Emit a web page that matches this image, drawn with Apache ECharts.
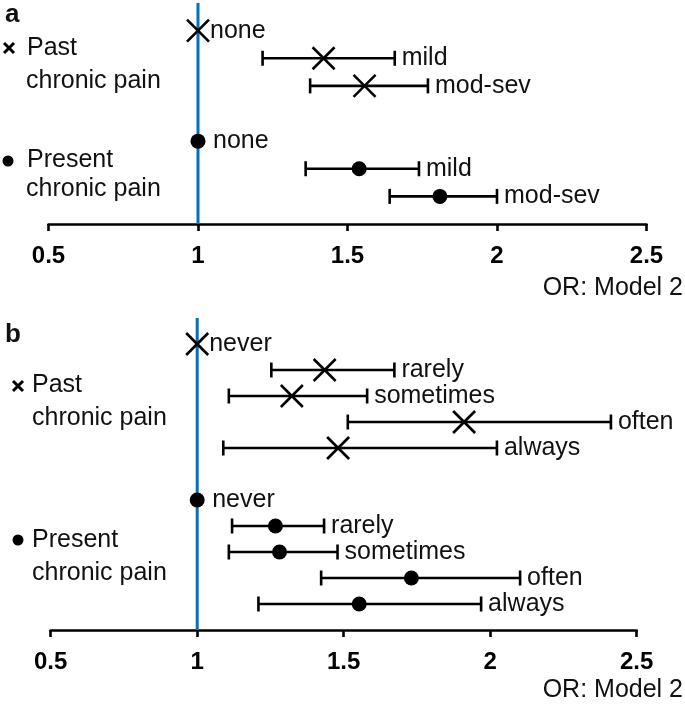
<!DOCTYPE html>
<html>
<head>
<meta charset="utf-8">
<script src="https://cdn.jsdelivr.net/npm/echarts@6/dist/echarts.min.js"></script>
<style>
  html, body { margin: 0; padding: 0; background: #fff; }
  #chart { width: 685px; height: 704px; }
</style>
</head>
<body>
<div id="chart"></div>
<script>
// panel a: pain severity
const sevLabels = ['none', 'mild', 'mod-sev'];
const sevPastEst = [1, 1.42, 1.557];
const sevPastLo  = [1, 1.216, 1.375];
const sevPastHi  = [1, 1.658, 1.769];
const sevPresEst = [1, 1.539, 1.809];
const sevPresLo  = [1, 1.36, 1.641];
const sevPresHi  = [1, 1.739, 2.0];

// panel b: pain frequency
const freqLabels = ['never', 'rarely', 'sometimes', 'often', 'always'];
const freqPastEst = [1, 1.435, 1.323, 1.911, 1.481];
const freqPastLo  = [1, 1.253, 1.108, 1.514, 1.089];
const freqPastHi  = [1, 1.673, 1.580, 2.412, 2.023];
const freqPresEst = [1, 1.267, 1.281, 1.731, 1.553];
const freqPresLo  = [1, 1.119, 1.108, 1.423, 1.209];
const freqPresHi  = [1, 1.433, 1.479, 2.102, 1.969];

const refOR = 1;
const FONT = "'Liberation Sans', Arial, sans-serif";

// rows counted up from the x axis, one empty row between the two groups
const toRows = (est, lo, hi, top) => est.map((v, i) => [v, lo[i], hi[i], top - i]);

const renderRow = (kind, labels) => (params, api) => {
  const est = api.value(0), lo = api.value(1), hi = api.value(2), row = api.value(3);
  const pE = api.coord([est, row]);
  const pL = api.coord([lo, row]);
  const pH = api.coord([hi, row]);
  const ink = { stroke: '#000', lineWidth: 2.6 };
  const kids = [];
  if (hi > lo) {
    kids.push({ type: 'line', shape: { x1: pL[0], y1: pL[1], x2: pH[0], y2: pH[1] }, style: ink });
    kids.push({ type: 'line', shape: { x1: pL[0], y1: pL[1] - 7.5, x2: pL[0], y2: pL[1] + 7.5 }, style: ink });
    kids.push({ type: 'line', shape: { x1: pH[0], y1: pH[1] - 7.5, x2: pH[0], y2: pH[1] + 7.5 }, style: ink });
  }
  if (kind === 'x') {
    const s = 11;
    kids.push({ type: 'line', shape: { x1: pE[0] - s, y1: pE[1] - s, x2: pE[0] + s, y2: pE[1] + s }, style: ink });
    kids.push({ type: 'line', shape: { x1: pE[0] - s, y1: pE[1] + s, x2: pE[0] + s, y2: pE[1] - s }, style: ink });
  } else {
    kids.push({ type: 'circle', shape: { cx: pE[0], cy: pE[1], r: 7.5 }, style: { fill: '#000' } });
  }
  const tx = hi > lo ? pH[0] + 7 : pE[0] + (kind === 'x' ? 12 : 15);
  kids.push({
    type: 'text',
    style: {
      text: labels[params.dataIndex], x: tx, y: pE[1],
      align: 'left', verticalAlign: 'middle', textAlign: 'left', textVerticalAlign: 'middle',
      font: '25px ' + FONT, fill: '#111'
    }
  });
  return { type: 'group', children: kids };
};

const xAxisBase = {
  type: 'value', min: 0.5, max: 2.5, interval: 0.5,
  splitLine: { show: false },
  axisLine: { onZero: false, lineStyle: { color: '#000', width: 2.6 } },
  axisTick: { show: true, inside: false, length: 7, lineStyle: { color: '#000', width: 2.6 } },
  axisLabel: { color: '#000', fontSize: 24, fontWeight: 'bold', fontFamily: FONT, margin: 20 }
};

const refLine = (idx, yMax) => ({
  type: 'line', xAxisIndex: idx, yAxisIndex: idx, z: 1,
  data: [[refOR, 0], [refOR, yMax]], showSymbol: false, silent: true,
  lineStyle: { color: '#0070C0', width: 3 }
});

const custom = (idx, kind, labels, data) => ({
  type: 'custom', xAxisIndex: idx, yAxisIndex: idx, z: 3,
  renderItem: renderRow(kind, labels), data: data,
  encode: { x: [0, 1, 2], y: 3 }
});

const txt = (text, x, y, size, weight, align) => ({
  type: 'text', x: x, y: y, z: 10,
  style: {
    text: text, font: (weight || 'normal') + ' ' + size + 'px ' + FONT, fill: '#111',
    textAlign: align || 'left', textVerticalAlign: 'middle',
    align: align || 'left', verticalAlign: 'middle'
  }
});
const cross = (cx, cy) => ({
  type: 'group', children: [
    { type: 'line', shape: { x1: cx - 5, y1: cy - 5, x2: cx + 5, y2: cy + 5 }, style: { stroke: '#000', lineWidth: 3 } },
    { type: 'line', shape: { x1: cx - 5, y1: cy + 5, x2: cx + 5, y2: cy - 5 }, style: { stroke: '#000', lineWidth: 3 } }
  ]
});
const dot = (cx, cy) => ({ type: 'circle', shape: { cx: cx, cy: cy, r: 5.5 }, style: { fill: '#000' } });

const chart = echarts.init(document.getElementById('chart'));
chart.setOption({
  animation: false,
  backgroundColor: '#fff',
  grid: [
    { left: 48.5, top: 3, width: 598, height: 221 },
    { left: 50.7, top: 318, width: 586, height: 312 }
  ],
  xAxis: [
    Object.assign({ gridIndex: 0 }, xAxisBase),
    Object.assign({ gridIndex: 1 }, xAxisBase)
  ],
  yAxis: [
    { gridIndex: 0, type: 'value', min: 0, max: 8, show: false },
    { gridIndex: 1, type: 'value', min: 0, max: 12, show: false }
  ],
  series: [
    refLine(0, 8),
    refLine(1, 12),
    custom(0, 'x', sevLabels, toRows(sevPastEst, sevPastLo, sevPastHi, 7)),
    custom(0, 'dot', sevLabels, toRows(sevPresEst, sevPresLo, sevPresHi, 3)),
    custom(1, 'x', freqLabels, toRows(freqPastEst, freqPastLo, freqPastHi, 11)),
    custom(1, 'dot', freqLabels, toRows(freqPresEst, freqPresLo, freqPresHi, 5))
  ],
  graphic: [
    txt('a', 5, 15, 26, 'bold'),
    cross(9, 48), txt('Past', 27, 48, 25),
    txt('chronic pain', 26, 81, 25),
    dot(8, 161), txt('Present', 27, 160, 25),
    txt('chronic pain', 26, 189, 25),
    txt('OR: Model 2', 683, 288, 25, 'normal', 'right'),

    txt('b', 5, 335, 26, 'bold'),
    cross(18, 386), txt('Past', 32, 385, 25),
    txt('chronic pain', 32, 418, 25),
    dot(18, 540), txt('Present', 32, 540, 25),
    txt('chronic pain', 32, 573, 25),
    txt('OR: Model 2', 683, 690, 25, 'normal', 'right')
  ]
});
</script>
</body>
</html>
